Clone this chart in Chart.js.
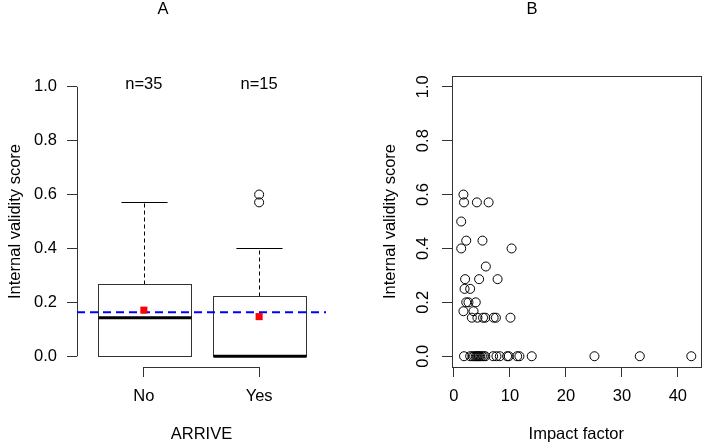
<!DOCTYPE html>
<html>
<head>
<meta charset="utf-8">
<script src="https://cdn.jsdelivr.net/npm/chart.js@4.4.0/dist/chart.umd.min.js"></script>
<style>
  html, body { margin: 0; padding: 0; background: #fff; }
  #wrap  { position: relative; width: 706px; height: 447px; }
  #chartA { position: absolute; left: 0; top: 0; }
  #chartB { position: absolute; left: 360px; top: 0; }
</style>
</head>
<body>
<div id="wrap">
  <canvas id="chartA" width="360" height="447"></canvas>
  <canvas id="chartB" width="346" height="447"></canvas>
</div>
<script>
/* Internal validity score — A: by ARRIVE, B: vs impact factor */

// ── Panel A data ──────────────────────────────────────────────────────────────
const GROUPS       = ["No", "Yes"];
const GROUP_N      = ["n=35", "n=15"];
const BOX_LOW      = [0, 0];          // lower whisker end
const BOX_Q1       = [0, 0];
const BOX_MEDIAN   = [0.143, 0];
const BOX_Q3       = [0.268, 0.225];
const BOX_HIGH     = [0.571, 0.4];    // upper whisker end
const GROUP_MEANS  = [0.171, 0.147];
const OUTLIERS     = [[], [0.571, 0.6]];
const OVERALL_MEAN = 0.163;

// ── Panel B data ──────────────────────────────────────────────────────────────
const IMPACT = [
  1.7, 1.8, 4.1, 6.2, 1.3, 2.2, 5.1, 1.3, 10.3, 5.7,
  2.0, 4.5, 7.8, 1.9, 2.9, 2.2, 2.6, 3.9, 1.7, 3.5,
  3.2, 4.2, 5.2, 5.6, 7.1, 7.5, 10.1,
  1.8, 2.9, 3.3, 3.6, 3.9, 4.1, 4.3, 4.5, 4.7, 5.0,
  5.3, 5.6, 7.0, 7.6, 8.2, 9.5, 9.8, 11.3, 11.7, 13.9,
  25.1, 33.2, 42.4,
];
const SCORE = [
  0.6, 0.571, 0.571, 0.571, 0.5, 0.429, 0.429, 0.4, 0.4, 0.333,
  0.286, 0.286, 0.286, 0.25, 0.25, 0.2, 0.2, 0.2, 0.167, 0.167,
  0.143, 0.143, 0.143, 0.143, 0.143, 0.143, 0.143,
  0, 0, 0, 0, 0, 0, 0, 0, 0, 0,
  0, 0, 0, 0, 0, 0, 0, 0, 0, 0,
  0, 0, 0,
];

// ── Axes ──────────────────────────────────────────────────────────────────────
const Y_TICKS   = [0, 0.2, 0.4, 0.6, 0.8, 1.0];
const X_TICKS_B = [0, 10, 20, 30, 40];
const Y_MIN = -0.04, Y_MAX = 1.04;
const XA_MIN = 0.42, XA_MAX = 2.58;
const XB_MIN = -0.344, XB_MAX = 44.044;
const BOX_WIDTH = 0.8;

const LINE = "#333";
Chart.defaults.font.family = "'Liberation Sans', Arial, sans-serif";
Chart.defaults.font.size = 16.5;
Chart.defaults.color = "#000";

const tickGrid = { drawOnChartArea: false, drawTicks: true, tickLength: 10, color: LINE };
const panelTitle = t => ({
  display: true, text: t, color: "#000",
  font: { size: 16.5, weight: "normal" },
  padding: { top: 0, bottom: 56.2 },
});

function yAxis(opts) {
  return Object.assign({
    type: "linear", min: Y_MIN, max: Y_MAX,
    afterBuildTicks: s => { s.ticks = Y_TICKS.map(v => ({ value: v })); },
    ticks: { callback: v => v.toFixed(1), color: "#000" },
    grid: tickGrid,
    border: { display: false },
    title: { display: true, text: "Internal validity score", color: "#000" },
  }, opts);
}

function seg(ctx, x1, y1, x2, y2) {
  ctx.beginPath(); ctx.moveTo(x1, y1); ctx.lineTo(x2, y2); ctx.stroke();
}

// ── Boxplot shapes + axes for panel A ─────────────────────────────────────────
const boxplotPlugin = {
  id: "boxplot",
  beforeDatasetsDraw(chart) {
    const { ctx, chartArea, scales: { x, y } } = chart;
    ctx.save();
    ctx.strokeStyle = LINE;
    ctx.lineWidth = 1;
    GROUPS.forEach((g, i) => {
      const cx  = Math.round(x.getPixelForValue(i + 1)) + 0.5;
      const hw  = x.getPixelForValue(i + 1 + BOX_WIDTH / 2) - x.getPixelForValue(i + 1);
      const q1  = Math.round(y.getPixelForValue(BOX_Q1[i])) + 0.5;
      const q3  = Math.round(y.getPixelForValue(BOX_Q3[i])) + 0.5;
      const hi  = Math.round(y.getPixelForValue(BOX_HIGH[i])) + 0.5;
      const lo  = Math.round(y.getPixelForValue(BOX_LOW[i])) + 0.5;
      const med = y.getPixelForValue(BOX_MEDIAN[i]);
      const l = Math.round(cx - hw) + 0.5, r = Math.round(cx + hw) + 0.5;

      ctx.strokeStyle = "#000";
      ctx.setLineDash([4, 3]);
      seg(ctx, cx, q3, cx, hi);
      seg(ctx, cx, q1, cx, lo);
      ctx.setLineDash([]);
      seg(ctx, cx - hw / 2, hi, cx + hw / 2, hi);
      seg(ctx, cx - hw / 2, lo, cx + hw / 2, lo);

      ctx.strokeStyle = LINE;
      ctx.fillStyle = "#fff";
      ctx.fillRect(l, q3, r - l, q1 - q3);
      ctx.strokeRect(l, q3, r - l, q1 - q3);

      ctx.strokeStyle = "#000";
      ctx.lineWidth = 3;
      seg(ctx, l, med, r, med);
      ctx.lineWidth = 1;
    });

    // y axis line from first to last tick
    const ax = Math.round(chartArea.left) + 0.5;
    ctx.strokeStyle = LINE;
    seg(ctx, ax, y.getPixelForValue(Y_TICKS[0]), ax, y.getPixelForValue(Y_TICKS[Y_TICKS.length - 1]));
    // x axis bracket between groups
    const by = Math.round(chartArea.bottom) + 0.5;
    seg(ctx, x.getPixelForValue(1), by, x.getPixelForValue(GROUPS.length), by);
    ctx.restore();
  },
  afterDatasetsDraw(chart) {
    const { ctx, scales: { x, y } } = chart;
    ctx.save();
    ctx.font = "16.5px 'Liberation Sans', Arial, sans-serif";
    ctx.fillStyle = "#000";
    ctx.textAlign = "center";
    ctx.textBaseline = "middle";
    GROUP_N.forEach((t, i) => ctx.fillText(t, x.getPixelForValue(i + 1), y.getPixelForValue(1.0) - 2));
    ctx.restore();
  },
};

// ── Frame for panel B ─────────────────────────────────────────────────────────
const framePlugin = {
  id: "frame",
  afterDatasetsDraw(chart) {
    const { ctx, chartArea: a } = chart;
    ctx.save();
    ctx.strokeStyle = LINE;
    ctx.lineWidth = 1;
    ctx.strokeRect(Math.round(a.left) + 0.5, Math.round(a.top) + 0.5,
                   Math.round(a.right - a.left), Math.round(a.bottom - a.top));
    ctx.restore();
  },
};

// ── Panel A ───────────────────────────────────────────────────────────────────
new Chart(document.getElementById("chartA"), {
  type: "scatter",
  data: {
    datasets: [
      {
        label: "Mean",
        data: GROUP_MEANS.map((m, i) => ({ x: i + 1, y: m })),
        pointStyle: "rect", pointRadius: 5,
        backgroundColor: "#ff0000", borderColor: "#ff0000", borderWidth: 0,
      },
      {
        label: "Outliers",
        data: OUTLIERS.flatMap((arr, i) => arr.map(v => ({ x: i + 1, y: v }))),
        pointRadius: 4.5, backgroundColor: "rgba(0,0,0,0)",
        borderColor: "#000", borderWidth: 1,
      },
      {
        type: "line",
        label: "Overall mean",
        data: [{ x: XA_MIN, y: OVERALL_MEAN }, { x: XA_MAX, y: OVERALL_MEAN }],
        borderColor: "#0000ff", borderWidth: 2, borderDash: [8, 5],
        pointRadius: 0, fill: false,
      },
    ],
  },
  options: {
    responsive: false,
    animation: false,
    devicePixelRatio: 1,
    layout: { padding: { left: 0, right: 34, top: 0, bottom: 0 } },
    plugins: { legend: { display: false }, tooltip: { enabled: false }, title: panelTitle("A") },
    scales: {
      x: {
        type: "linear", min: XA_MIN, max: XA_MAX,
        afterBuildTicks: s => { s.ticks = GROUPS.map((g, i) => ({ value: i + 1 })); },
        afterFit: s => { s.height = 80; },
        ticks: { callback: (v, i) => GROUPS[i], padding: 10, color: "#000", maxRotation: 0 },
        grid: tickGrid,
        border: { display: false },
        title: { display: true, text: "ARRIVE", color: "#000", padding: { top: 0, bottom: 3 } },
      },
      y: yAxis({
        afterFit: s => { s.width = 77; },
        title: { display: true, text: "Internal validity score", color: "#000", padding: { top: 5.6, bottom: 0 } },
        ticks: { callback: v => v.toFixed(1), color: "#000", padding: 10 },
      }),
    },
  },
  plugins: [boxplotPlugin],
});

// ── Panel B ───────────────────────────────────────────────────────────────────
new Chart(document.getElementById("chartB"), {
  type: "scatter",
  data: {
    datasets: [{
      label: "Articles",
      data: IMPACT.map((v, i) => ({ x: v, y: SCORE[i] })),
      pointRadius: 4.5, backgroundColor: "rgba(0,0,0,0)",
      borderColor: "#000", borderWidth: 1,
    }],
  },
  options: {
    responsive: false,
    animation: false,
    devicePixelRatio: 1,
    layout: { padding: { left: 0, right: 2, top: 0, bottom: 0 } },
    plugins: { legend: { display: false }, tooltip: { enabled: false }, title: panelTitle("B") },
    scales: {
      x: {
        type: "linear", min: XB_MIN, max: XB_MAX,
        afterBuildTicks: s => { s.ticks = X_TICKS_B.map(v => ({ value: v })); },
        afterFit: s => { s.height = 80; },
        ticks: { padding: 10, color: "#000", maxRotation: 0 },
        grid: tickGrid,
        border: { display: false },
        title: { display: true, text: "Impact factor", color: "#000", padding: { top: 0, bottom: 3 } },
      },
      y: yAxis({
        afterFit: s => { s.width = 92; },
        title: { display: true, text: "Internal validity score", color: "#000", padding: { top: 20.6, bottom: 0 } },
        ticks: { callback: v => v.toFixed(1), color: "#000", padding: 7.5, minRotation: 90, maxRotation: 90, crossAlign: "center" },
      }),
    },
  },
  plugins: [framePlugin],
});
</script>
</body>
</html>
